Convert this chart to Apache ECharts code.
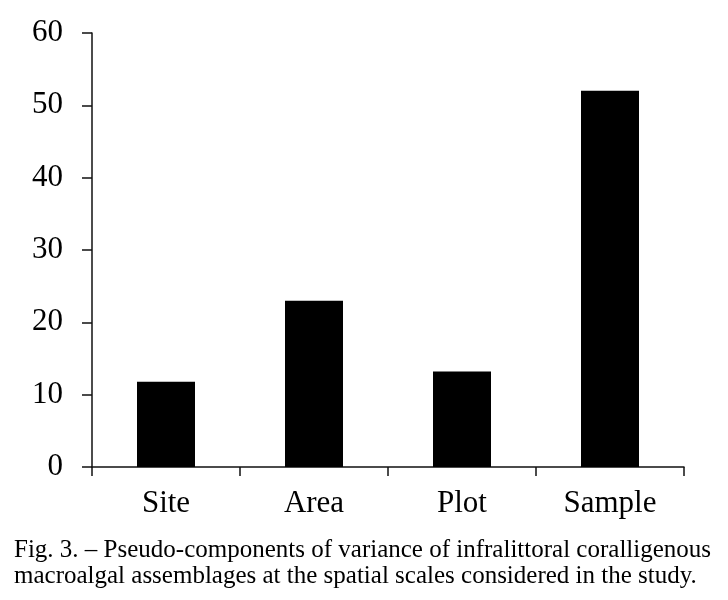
<!DOCTYPE html>
<html>
<head>
<meta charset="utf-8">
<script src="https://cdn.jsdelivr.net/npm/echarts@6/dist/echarts.min.js"></script>
<style>
  html, body { margin: 0; padding: 0; background: #fff; }
  #chart { width: 728px; height: 600px; }
</style>
</head>
<body>
<div id="chart"></div>
<script>
// --- Data ---
const scales = ['Site', 'Area', 'Plot', 'Sample'];
const variance = [11.8, 23.0, 13.2, 52.0];
const captionLines = [
    'Fig. 3. \u2013 Pseudo-components of variance of infralittoral coralligenous',
    'macroalgal assemblages at the spatial scales considered in the study.'
];

// --- Render ---
const serif = '"Liberation Serif", "Times New Roman", serif';
const chart = echarts.init(document.getElementById('chart'));
chart.setOption({
    animation: false,
    backgroundColor: '#fff',
    grid: { left: 92, right: 44, top: 33, bottom: 133 },
    xAxis: {
        type: 'category',
        data: scales,
        axisLine: { lineStyle: { color: '#111', width: 1.5 } },
        axisTick: { show: true, length: 9, lineStyle: { color: '#111', width: 1.5 } },
        axisLabel: { color: '#000', fontFamily: serif, fontSize: 31, margin: 21 }
    },
    yAxis: {
        type: 'value',
        min: 0,
        max: 60,
        interval: 10,
        splitLine: { show: false },
        axisLine: { show: true, lineStyle: { color: '#111', width: 1.5 } },
        axisTick: { show: true, length: 10, lineStyle: { color: '#111', width: 1.5 } },
        axisLabel: { color: '#000', fontFamily: serif, fontSize: 31, margin: 29 }
    },
    series: [{
        type: 'bar',
        data: variance,
        barWidth: 58,
        itemStyle: { color: '#000' }
    }],
    graphic: captionLines.map((line, i) => ({
        type: 'text',
        left: 14,
        top: 538 + i * 26,
        style: { text: line, fill: '#000', font: '25px ' + serif }
    }))
});
</script>
</body>
</html>
